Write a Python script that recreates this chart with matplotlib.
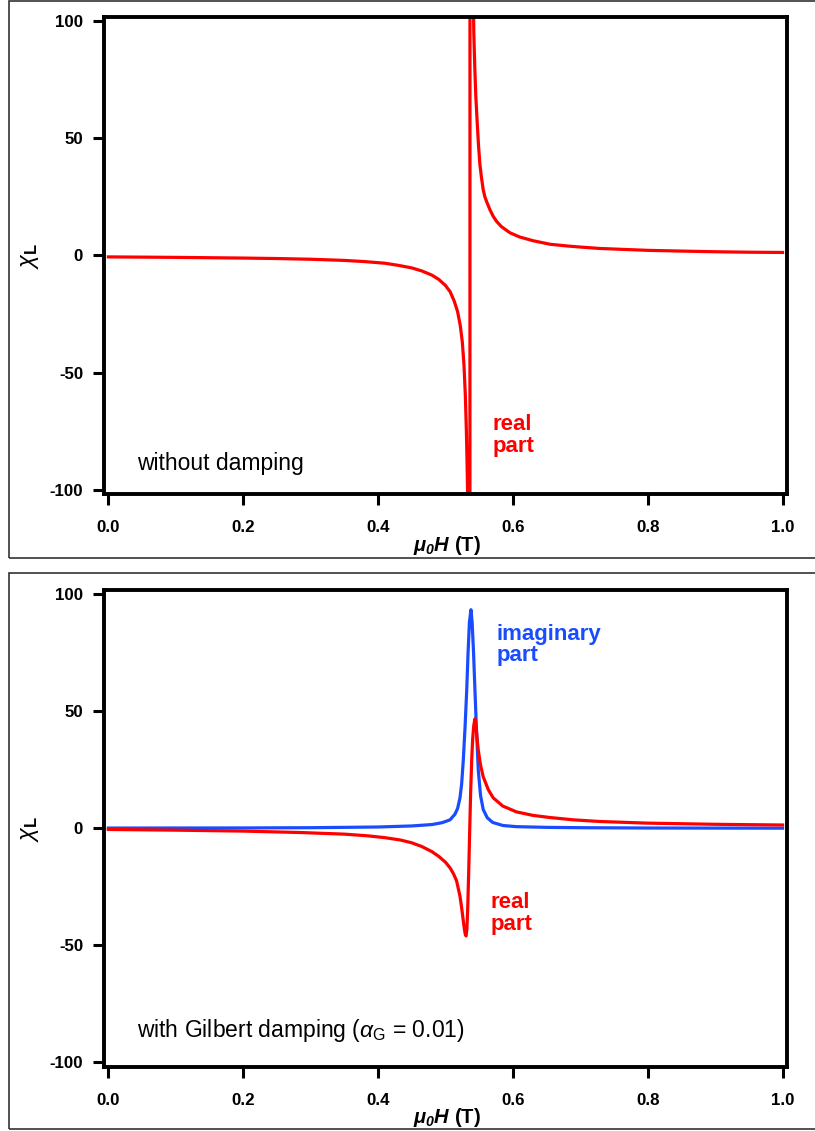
"""Longitudinal susceptibility chi_L vs field, without and with Gilbert damping."""
import matplotlib

matplotlib.use("Agg")
import matplotlib.pyplot as plt
from matplotlib.patches import Rectangle

RED = "#ff0000"
BLUE = "#1a4cff"

# --- data ------------------------------------------------------------------
# top panel: real part, no damping (values beyond +-100 run off the axes)
h_undamped = [0.0, 0.05, 0.1, 0.15, 0.2, 0.25, 0.3, 0.35, 0.38, 0.41, 0.43,
              0.45, 0.465, 0.48, 0.49, 0.5, 0.507, 0.513, 0.518, 0.522,
              0.525, 0.5275, 0.5295, 0.531, 0.532, 0.533, 0.534, 0.5362,
              0.5364, 0.540, 0.542, 0.5435, 0.545, 0.547, 0.549, 0.551,
              0.5535, 0.556, 0.5585, 0.561, 0.566, 0.5708, 0.576, 0.583,
              0.5956, 0.61, 0.63, 0.655, 0.679, 0.70, 0.729, 0.773, 0.8,
              0.847, 0.9, 0.95, 1.0]
re_undamped = [-0.6, -0.7, -0.8, -0.95, -1.1, -1.3, -1.6, -2.1, -2.6, -3.3,
               -4.2, -5.3, -6.6, -8.4, -10.2, -12.8, -15.5, -19.5, -24, -30,
               -37, -47, -60, -75, -88, -105, -150, -1000,
               1000, 140, 95, 80, 68, 57, 47, 39,
               33, 28, 25, 23, 19.5, 16.7, 14.5, 12.3,
               9.7, 7.9, 6.3, 4.8, 4.1, 3.6, 3.0, 2.5, 2.2,
               1.9, 1.6, 1.4, 1.3]

# bottom panel: Gilbert damping alpha_G = 0.01
h_damped = [0.0, 0.1, 0.2, 0.284, 0.35, 0.384, 0.41, 0.433, 0.45, 0.465,
            0.48, 0.49, 0.5, 0.507, 0.512, 0.5165, 0.5215, 0.524, 0.5264,
            0.528, 0.5295, 0.5305, 0.5318, 0.533, 0.5345, 0.536, 0.5373,
            0.539, 0.5403, 0.542, 0.5437, 0.5455, 0.547, 0.5486, 0.552,
            0.556, 0.5635, 0.5708, 0.585, 0.6054, 0.63, 0.655, 0.69, 0.729,
            0.8, 0.9, 1.0]
re_damped = [-0.5, -0.8, -1.2, -1.8, -2.5, -3.2, -4.0, -5.0, -6.2, -7.8,
             -10, -12, -14.5, -17, -19.5, -22.5, -29, -34, -39.5,
             -43, -45.5, -46, -43, -34, -18, 0, 15,
             30, 38, 44, 46.8, 43, 38, 33.5, 27,
             22, 16.5, 13, 9.5, 7, 5.5, 4.6, 3.6, 2.9,
             2.2, 1.7, 1.4]

h_imag = [0.0, 0.2, 0.3, 0.4, 0.45, 0.48, 0.495, 0.5067, 0.514, 0.518,
          0.5215, 0.524, 0.5264, 0.529, 0.5315, 0.5335, 0.5355, 0.5378,
          0.5395, 0.5415, 0.5437, 0.546, 0.5486, 0.552, 0.556, 0.562, 0.570,
          0.585, 0.605, 0.65, 0.7, 0.8, 1.0]
im_damped = [0.1, 0.15, 0.25, 0.55, 1.0, 1.6, 2.4, 3.6, 6, 8.5,
             13, 19, 29, 43, 59, 75, 88, 93.4,
             88, 76, 59, 42, 25, 14, 8, 4.5, 2.5,
             1.2, 0.7, 0.4, 0.25, 0.12, 0.05]

x_ticks = [0.0, 0.2, 0.4, 0.6, 0.8, 1.0]
y_ticks = [-100, -50, 0, 50, 100]

plt.rcParams["font.family"] = ["Liberation Sans", "DejaVu Sans"]
plt.rcParams["axes.unicode_minus"] = False
plt.rcParams["mathtext.fontset"] = "custom"
plt.rcParams["mathtext.it"] = "Liberation Sans:italic:bold"
plt.rcParams["mathtext.bfit"] = "Liberation Sans:italic:bold"
plt.rcParams["mathtext.rm"] = "Liberation Sans"
plt.rcParams["mathtext.bf"] = "Liberation Sans:bold"
plt.rcParams["mathtext.sf"] = "Liberation Sans:italic"

fig = plt.figure(figsize=(8.15, 11.31), dpi=100)

# panel frames
fig.add_artist(Rectangle((0.011, 0.5066), 1.0, 0.4925, transform=fig.transFigure,
                         fill=False, ec="#333333", lw=1.2))
fig.add_artist(Rectangle((0.011, 0.0018), 1.0, 0.4916, transform=fig.transFigure,
                         fill=False, ec="#333333", lw=1.2))

ax_top = fig.add_axes([0.1276, 0.5632, 0.838, 0.4218])
ax_bot = fig.add_axes([0.1276, 0.0570, 0.838, 0.4213])


def style(ax):
    ax.set_xlim(-0.0065, 1.0065)
    ax.set_ylim(-101.8, 101.8)
    ax.set_xticks(x_ticks)
    ax.set_xticklabels([f"{v:.1f}" for v in x_ticks])
    ax.set_yticks(y_ticks)
    for s in ax.spines.values():
        s.set_linewidth(2.8)
    ax.tick_params(direction="out", length=8, width=2.2, labelsize=12.2,
                   top=False, right=False)
    ax.tick_params(axis="x", pad=11)
    ax.tick_params(axis="y", pad=7)
    for lab in ax.get_xticklabels() + ax.get_yticklabels():
        lab.set_fontweight("bold")
    ax.set_xlabel(r"$\mu_{\mathbfit{0}}H$ (T)", fontsize=14.5, fontweight="bold")
    ax.xaxis.set_label_coords(0.502, -0.107)
    ax.xaxis.label.set_va("center")
    ax.set_ylabel(r"$\mathsf{\chi}_{\mathbf{L}}$", fontsize=17)
    ax.yaxis.set_label_coords(-0.108, 0.5)
    ax.yaxis.label.set_va("center")


# --- top: no damping --------------------------------------------------------
ax_top.plot(h_undamped, re_undamped, color=RED, lw=2.3)
style(ax_top)
ax_top.text(0.048, 0.065, "without damping", transform=ax_top.transAxes,
            fontsize=16.5, va="center", ha="left")
ax_top.text(0.5695, 0.1226, "real\npart", transform=ax_top.transAxes,
            fontsize=16, fontweight="bold", color=RED, va="center",
            ha="left", linespacing=1.05)

# --- bottom: Gilbert damping ------------------------------------------------
ax_bot.plot(h_imag, im_damped, color=BLUE, lw=2.3)
ax_bot.plot(h_damped, re_damped, color=RED, lw=2.3)
style(ax_bot)
ax_bot.text(0.048, 0.0766,
            r"with Gilbert damping ($\mathsf{\alpha}_{\mathrm{G}}$ = 0.01)",
            transform=ax_bot.transAxes, fontsize=16.5, va="center", ha="left")
ax_bot.text(0.5754, 0.8846, "imaginary\npart", transform=ax_bot.transAxes,
            fontsize=16, fontweight="bold", color=BLUE, va="center",
            ha="left", linespacing=1.05)
ax_bot.text(0.5666, 0.322, "real\npart", transform=ax_bot.transAxes,
            fontsize=16, fontweight="bold", color=RED, va="center",
            ha="left", linespacing=1.05)

fig.savefig("out.png", dpi=100)
